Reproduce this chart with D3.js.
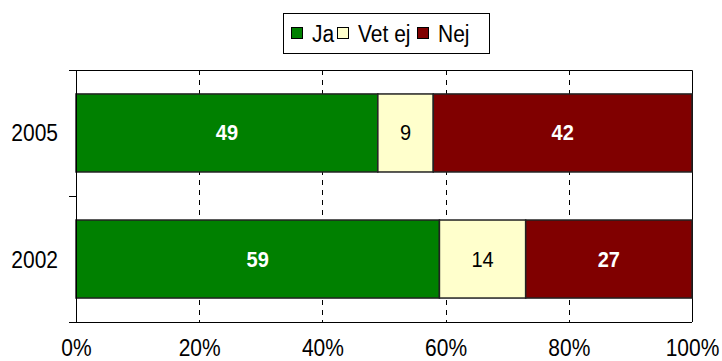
<!DOCTYPE html>
<html lang="sv">
<head>
<meta charset="utf-8">
<title>Ja / Vet ej / Nej</title>
<script src="https://cdn.jsdelivr.net/npm/d3@7"></script>
<style>
body { margin: 0; background: #fff; }
svg text { font-family: Arial, "Liberation Sans", sans-serif; }
</style>
</head>
<body>
<svg id="chart" width="722" height="361"></svg>
<script>
var years = ['2005', '2002'];
var seriesNames = ['Ja', 'Vet ej', 'Nej'];
var ja = [49, 59];
var vetEj = [9, 14];
var nej = [42, 27];
var xTicks = [0, 20, 40, 60, 80, 100];

var colors = ['#008000', '#ffffcc', '#800000'];
var labelColors = ['#fff', '#000', '#fff'];
var labelWeights = ['bold', 'normal', 'bold'];

var svg = d3.select('#chart');
var pLeft = 76, pRight = 692, pTop = 70, pBottom = 322;
var stretch = 'scale(1,1.12)';  // text in the original looks a bit tall

var x = d3.scaleLinear().domain([0, 100]).range([pLeft, pRight]);
var y = d3.scaleBand().domain(years).range([pTop, pBottom]).paddingInner(0.381).paddingOuter(0.19);

// rows for stacking
var rows = years.map(function(yr, i) {
  return { year: yr, 'Ja': ja[i], 'Vet ej': vetEj[i], 'Nej': nej[i] };
});
var stacked = d3.stack().keys(seriesNames)(rows);

// dashed gridlines
svg.append('g')
  .selectAll('line')
  .data(xTicks.filter(function(t) { return t > 0 && t < 100; }))
  .enter().append('line')
  .attr('x1', function(d) { return Math.round(x(d)) + 0.5; })
  .attr('x2', function(d) { return Math.round(x(d)) + 0.5; })
  .attr('y1', pTop)
  .attr('y2', pBottom)
  .attr('stroke', '#000')
  .attr('stroke-width', 1)
  .attr('stroke-dasharray', '5,5');

// plot border top/right
svg.append('path')
  .attr('d', 'M' + pLeft + ',' + (pTop + 0.5) + 'H' + (pRight + 0.5) + 'V' + pBottom)
  .attr('fill', 'none')
  .attr('stroke', '#000')
  .attr('stroke-width', 1);

// bars
var layers = svg.append('g').selectAll('g')
  .data(stacked)
  .enter().append('g');

layers.selectAll('rect')
  .data(function(d) { return d.map(function(p) { return { p: p, idx: d.index }; }); })
  .enter().append('rect')
  .attr('x', function(d) { return x(d.p[0]); })
  .attr('y', function(d) { return y(d.p.data.year); })
  .attr('width', function(d) { return x(d.p[1]) - x(d.p[0]); })
  .attr('height', y.bandwidth())
  .attr('fill', function(d) { return colors[d.idx]; })
  .attr('stroke', '#222')
  .attr('stroke-width', 1.5);

layers.selectAll('text')
  .data(function(d) { return d.map(function(p) { return { p: p, idx: d.index }; }); })
  .enter().append('text')
  .attr('transform', function(d) {
    return 'translate(' + (x(d.p[0]) + x(d.p[1])) / 2 + ',' + (y(d.p.data.year) + y.bandwidth() / 2 + 7.5) + ') scale(1,1.06)';
  })
  .attr('text-anchor', 'middle')
  .attr('font-size', '20px')
  .attr('font-weight', function(d) { return labelWeights[d.idx]; })
  .attr('fill', function(d) { return labelColors[d.idx]; })
  .text(function(d) { return d.p[1] - d.p[0]; });

// x axis
var xAxis = svg.append('g')
  .attr('transform', 'translate(0,' + pBottom + ')')
  .call(d3.axisBottom(x).tickValues(xTicks).tickSize(0)
    .tickFormat(function(d) { return d + '%'; }));
xAxis.select('.domain').attr('d', 'M' + (pLeft - 7) + ',0.5H' + pRight).attr('stroke', '#000');
xAxis.selectAll('text')
  .attr('y', 0).attr('dy', 0)
  .attr('transform', 'translate(0,34) ' + stretch)
  .attr('font-size', '21px').attr('fill', '#000')
  .attr('font-family', 'Arial, "Liberation Sans", sans-serif');

// y axis with ticks on category boundaries
var yAxis = svg.append('g')
  .attr('transform', 'translate(' + pLeft + ',0)');
yAxis.append('line')
  .attr('x1', 0.5).attr('x2', 0.5).attr('y1', pTop).attr('y2', pBottom)
  .attr('stroke', '#000');
var bounds = [pTop, (pTop + pBottom) / 2, pBottom];
yAxis.selectAll('.tk')
  .data(bounds)
  .enter().append('line')
  .attr('class', 'tk')
  .attr('x1', -7).attr('x2', 0)
  .attr('y1', function(d) { return d + 0.5; })
  .attr('y2', function(d) { return d + 0.5; })
  .attr('stroke', '#000');
yAxis.selectAll('.lbl')
  .data(years)
  .enter().append('text')
  .attr('class', 'lbl')
  .attr('transform', function(d) {
    return 'translate(-18,' + (y(d) + y.bandwidth() / 2 + 8.5) + ') ' + stretch;
  })
  .attr('text-anchor', 'end')
  .attr('font-size', '21px')
  .text(function(d) { return d; });

// legend
var legend = svg.append('g');
legend.append('rect')
  .attr('x', 283.5).attr('y', 13.5).attr('width', 206).attr('height', 40)
  .attr('fill', '#fff').attr('stroke', '#000');
var legX = [291, 337, 417];
var items = legend.selectAll('.item')
  .data(seriesNames)
  .enter().append('g')
  .attr('class', 'item')
  .attr('transform', function(d, i) { return 'translate(' + legX[i] + ',0)'; });
items.append('rect')
  .attr('x', 0.5).attr('y', 27.5).attr('width', 11).attr('height', 11)
  .attr('fill', function(d, i) { return colors[i]; })
  .attr('stroke', '#000');
items.append('text')
  .attr('transform', 'translate(21,41.5) ' + stretch)
  .attr('font-size', '21px')
  .text(function(d) { return d; });
</script>
</body>
</html>
